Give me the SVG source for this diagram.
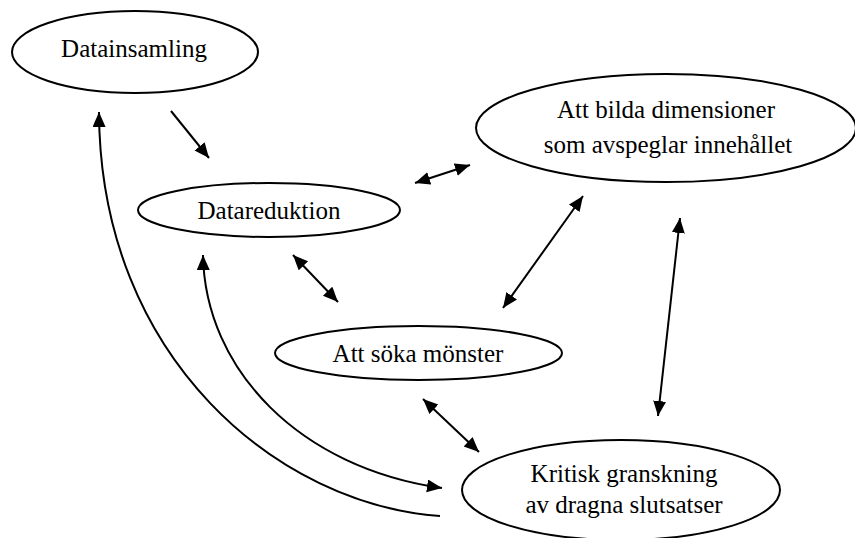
<svg xmlns="http://www.w3.org/2000/svg" width="855" height="538" viewBox="0 0 855 538">
<style>
.node ellipse{fill:#fff;stroke:#000;stroke-width:2}
.node text{font-size:25px;fill:#000;text-anchor:middle}
#connectors path,#connectors line{fill:none;stroke:#000;stroke-width:2}
</style>
<defs>
<marker id="ah" markerUnits="userSpaceOnUse" markerWidth="16" markerHeight="14" refX="15" refY="6.5" orient="auto-start-reverse" viewBox="0 0 16 14">
<path d="M0,0 L15,6.5 L0,13 z" fill="#000"/>
</marker>
</defs>
<rect width="855" height="538" fill="#fff"/>
<g font-family="'Liberation Serif', 'Times New Roman', 'DejaVu Serif', serif">
<g id="n-datainsamling" class="node">
<ellipse cx="135" cy="52" rx="123" ry="41"/>
<text x="134" y="57">Datainsamling</text>
</g>
<g id="n-datareduktion" class="node">
<ellipse cx="269" cy="210" rx="131" ry="27"/>
<text x="269" y="219">Datareduktion</text>
</g>
<g id="n-dimensioner" class="node">
<ellipse cx="666" cy="128" rx="190" ry="54"/>
<text x="666" y="118">Att bilda dimensioner</text>
<text x="668" y="153">som avspeglar innehållet</text>
</g>
<g id="n-monster" class="node">
<ellipse cx="418.5" cy="353" rx="143.5" ry="27"/>
<text x="418" y="362">Att söka mönster</text>
</g>
<g id="n-kritisk" class="node">
<ellipse cx="621" cy="490" rx="159" ry="50"/>
<text x="624" y="482">Kritisk granskning</text>
<text x="624" y="513">av dragna slutsatser</text>
</g>
</g>
<g id="connectors">
<line x1="171" y1="111" x2="209" y2="158" marker-end="url(#ah)"/>
<line x1="415" y1="183" x2="470" y2="165" marker-start="url(#ah)" marker-end="url(#ah)"/>
<line x1="293" y1="255" x2="338" y2="302" marker-start="url(#ah)" marker-end="url(#ah)"/>
<line x1="583" y1="196" x2="503" y2="308" marker-start="url(#ah)" marker-end="url(#ah)"/>
<line x1="680" y1="218" x2="658" y2="416" marker-start="url(#ah)" marker-end="url(#ah)"/>
<line x1="423" y1="399" x2="479" y2="452" marker-start="url(#ah)" marker-end="url(#ah)"/>
<path d="M203,255 C205,370 300,468 442,488" marker-start="url(#ah)" marker-end="url(#ah)"/>
<path d="M440,516 C280,505 100,360 99,112" marker-end="url(#ah)"/>
</g>
</svg>
